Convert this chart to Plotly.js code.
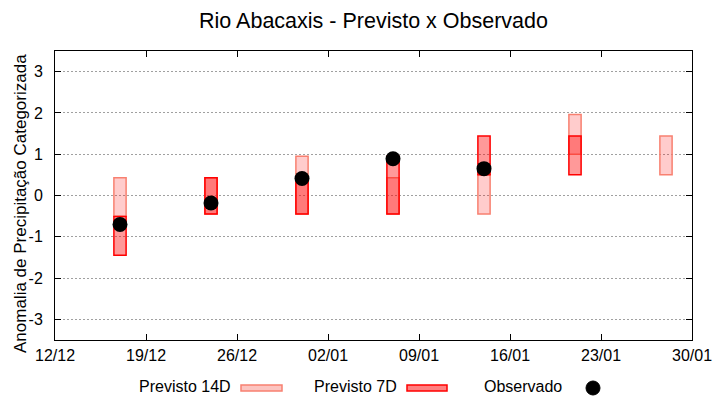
<!DOCTYPE html>
<html>
<head>
<meta charset="utf-8">
<script src="https://cdn.plot.ly/plotly-3.0.1.min.js"></script>
<style>html,body{margin:0;padding:0;background:#fff;}#chart{width:720px;height:400px;}</style>
</head>
<body>
<div id="chart"></div>
<script>
// Data
var dates = ['2020-12-17', '2020-12-24', '2020-12-31', '2021-01-07', '2021-01-14', '2021-01-21', '2021-01-28'];
var prev14Low  = [-0.50, -0.45, -0.45, -0.45, -0.45, 1.00, 0.50];
var prev14High = [ 0.43,  0.43,  0.95,  0.43,  0.50, 1.96, 1.44];
var prev7Dates = ['2020-12-17', '2020-12-24', '2020-12-31', '2021-01-07', '2021-01-14', '2021-01-21'];
var prev7Low   = [-1.45, -0.45, -0.45, -0.45, 0.50, 0.50];
var prev7High  = [-0.51,  0.43,  0.43,  0.95, 1.44, 1.44];
var obsDates = ['2020-12-17', '2020-12-24', '2020-12-31', '2021-01-07', '2021-01-14'];
var obsValues = [-0.70, -0.18, 0.41, 0.89, 0.65];
var xTickVals = ['2020-12-12', '2020-12-19', '2020-12-26', '2021-01-02', '2021-01-09', '2021-01-16', '2021-01-23', '2021-01-30'];
var xTickText = ['12/12', '19/12', '26/12', '02/01', '09/01', '16/01', '23/01', '30/01'];
var yTickVals = [-3, -2, -1, 0, 1, 2, 3];
var yTickText = ['-3', '-2', '-1', '0', '1', '2', '3'];

var DAY = 86400000;
var font = 'Liberation Sans, Arial, sans-serif';

function lengths(lo, hi) { return hi.map(function (h, i) { return h - lo[i]; }); }

var traces = [
  {
    type: 'bar', name: 'Previsto 14D', x: dates, base: prev14Low, y: lengths(prev14Low, prev14High),
    width: dates.map(function () { return 0.94 * DAY; }),
    marker: { color: 'rgba(255,0,0,0.2)', line: { color: '#f88070', width: 1.5 } },
    showlegend: false, hoverinfo: 'skip'
  },
  {
    type: 'bar', name: 'Previsto 7D', x: prev7Dates, base: prev7Low, y: lengths(prev7Low, prev7High),
    width: prev7Dates.map(function () { return 0.94 * DAY; }),
    marker: { color: 'rgba(255,0,0,0.4)', line: { color: '#ff0000', width: 1.5 } },
    showlegend: false, hoverinfo: 'skip'
  },
  {
    type: 'scatter', mode: 'markers', name: 'Observado', x: obsDates, y: obsValues,
    marker: { color: '#000000', size: 15, symbol: 'circle' },
    showlegend: false, hoverinfo: 'skip'
  }
];

var W = 637, H = 289, L = 55, T = 51;
function px(x) { return (x - L) / W; }
function py(y) { return (T + H - y) / H; }

var layout = {
  width: 720, height: 400,
  margin: { l: 55, r: 28, t: 51, b: 60 },
  paper_bgcolor: '#ffffff', plot_bgcolor: '#ffffff',
  barmode: 'overlay',
  font: { family: font, size: 16, color: '#000000' },
  title: { text: 'Rio Abacaxis - Previsto x Observado', font: { family: font, size: 21.5, color: '#000000' },
           xref: 'paper', x: 0.5, xanchor: 'center', y: 0.95, yanchor: 'middle', yref: 'container' },
  xaxis: {
    type: 'date', range: ['2020-12-12', '2021-01-30'],
    tickvals: xTickVals, ticktext: xTickText,
    ticks: 'inside', ticklen: 6, tickcolor: '#000', mirror: 'ticks',
    showline: true, linecolor: '#000', linewidth: 1,
    showgrid: false, zeroline: false, ticklabelstandoff: 1,
    tickfont: { family: font, size: 16, color: '#000' }
  },
  yaxis: {
    range: [-3.5, 3.5], tickvals: yTickVals, ticktext: yTickText,
    ticks: 'inside', ticklen: 6, tickcolor: '#000', mirror: 'ticks',
    showline: true, linecolor: '#000', linewidth: 1,
    showgrid: true, gridcolor: '#a0a0a0', gridwidth: 1, griddash: '2px,2px',
    zeroline: false, ticklabelstandoff: 8,
    tickfont: { family: font, size: 16, color: '#000' }
  },
  annotations: [
    { xref: 'paper', yref: 'paper', x: px(20), y: py(204), xanchor: 'center', yanchor: 'middle', textangle: -90, text: 'Anomalia de Precipitação Categorizada', showarrow: false, font: { family: font, size: 17, color: '#000' } },
    { xref: 'paper', yref: 'paper', x: px(233), y: py(386), xanchor: 'right', yanchor: 'middle', text: 'Previsto 14D', showarrow: false, font: { family: font, size: 16, color: '#000' } },
    { xref: 'paper', yref: 'paper', x: px(399), y: py(386), xanchor: 'right', yanchor: 'middle', text: 'Previsto 7D', showarrow: false, font: { family: font, size: 16, color: '#000' } },
    { xref: 'paper', yref: 'paper', x: px(564), y: py(386), xanchor: 'right', yanchor: 'middle', text: 'Observado', showarrow: false, font: { family: font, size: 16, color: '#000' } }
  ],
  shapes: [
    { type: 'rect', xref: 'paper', yref: 'paper', x0: px(241), x1: px(282), y0: py(385), y1: py(391), fillcolor: '#fcc4c0', line: { color: '#f88070', width: 1.5 } },
    { type: 'rect', xref: 'paper', yref: 'paper', x0: px(407), x1: px(447), y0: py(385), y1: py(391), fillcolor: '#ff8080', line: { color: '#ff0000', width: 1.5 } },
    { type: 'circle', xref: 'paper', yref: 'paper', x0: px(586), x1: px(600), y0: py(381), y1: py(395), fillcolor: '#000', line: { color: '#000', width: 1 } }
  ]
};

Plotly.newPlot('chart', traces, layout, { staticPlot: true, displayModeBar: false });
</script>
</body>
</html>
